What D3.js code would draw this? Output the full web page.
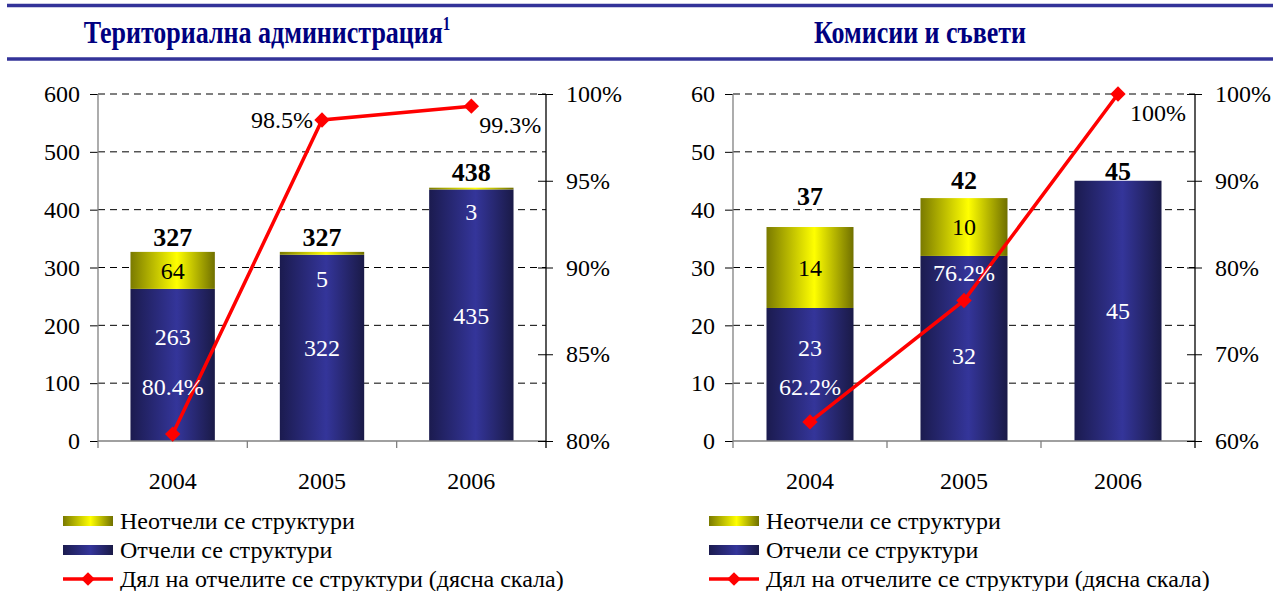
<!DOCTYPE html>
<html>
<head>
<meta charset="utf-8">
<script src="https://cdn.jsdelivr.net/npm/d3@7"></script>
<style>
  body { margin: 0; background: #fff; }
</style>
</head>
<body>
<script>
// data
const years = ["2004", "2005", "2006"];

const terrReported = [263, 322, 435];
const terrUnreported = [64, 5, 3];
const terrShare = [80.4, 98.5, 99.3];
const terrLeftTicks = [0, 100, 200, 300, 400, 500, 600];
const terrRightTicks = [80, 85, 90, 95, 100];

const comReported = [23, 32, 45];
const comUnreported = [14, 10, 0];
const comShare = [62.2, 76.2, 100];
const comLeftTicks = [0, 10, 20, 30, 40, 50, 60];
const comRightTicks = [60, 70, 80, 90, 100];

const legendLabels = ["Неотчели се структури", "Отчели се структури", "Дял на отчелите се структури (дясна скала)"];

const width = 1273;
const height = 591;
const FONT = "Liberation Serif";

const svg = d3.select("body").append("svg")
    .attr("width", width)
    .attr("height", height)
    .attr("font-family", FONT);

// gradients for the "cylinder" look of the bars
const defs = svg.append("defs");
function gradient(id, edgeL, mid, edgeR) {
    const g = defs.append("linearGradient").attr("id", id)
        .attr("x1", "0%").attr("x2", "100%").attr("y1", "0%").attr("y2", "0%");
    g.append("stop").attr("offset", "0%").attr("stop-color", edgeL);
    g.append("stop").attr("offset", "55%").attr("stop-color", mid);
    g.append("stop").attr("offset", "100%").attr("stop-color", edgeR);
}
gradient("gBlue", "#1b1b4f", "#34359a", "#1a1a47");
gradient("gYellow", "#7a7a00", "#ffff00", "#707000");

// header rules
[5.5, 59].forEach(y => {
    svg.append("line")
        .attr("x1", 7).attr("x2", width)
        .attr("y1", y).attr("y2", y)
        .attr("stroke", "#333399").attr("stroke-width", 3.5);
});

function txt(sel) {
    return sel.attr("font-family", FONT).attr("font-size", 24).attr("fill", "#000");
}

function drawPanel(p) {
    const g = svg.append("g");
    const top = 94, bottom = 441;

    // title
    const t = g.append("text")
        .attr("transform", `translate(${p.titleX},43) scale(1,1.2)`)
        .attr("text-anchor", "middle")
        .attr("fill", "#000080")
        .attr("font-family", FONT)
        .attr("font-weight", "bold")
        .attr("font-size", 26)
        .text(p.title);
    if (p.sup) {
        t.append("tspan").attr("dy", -11).attr("font-size", 15).text(p.sup);
    }

    const x = d3.scaleBand().domain(years).range([p.left, p.right]);
    const y = d3.scaleLinear().domain(p.yDomain).range([bottom, top]);
    const y2 = d3.scaleLinear().domain(p.y2Domain).range([bottom, top]);
    const bw = x.bandwidth() * p.barFrac;
    const cx = d => x(d) + x.bandwidth() / 2;

    // dashed grid
    g.append("g").selectAll("line")
        .data(p.leftTicks.filter(d => d > 0))
        .join("line")
        .attr("x1", p.left).attr("x2", p.right)
        .attr("y1", d => y(d)).attr("y2", d => y(d))
        .attr("stroke", "#000").attr("stroke-width", 1)
        .attr("stroke-dasharray", "7,5");

    // bars
    const bars = g.append("g");
    years.forEach((yr, i) => {
        const r = p.reported[i], u = p.unreported[i];
        bars.append("rect")
            .attr("x", cx(yr) - bw / 2).attr("width", bw)
            .attr("y", y(r)).attr("height", y(0) - y(r))
            .attr("fill", "url(#gBlue)");
        if (u > 0) {
            bars.append("rect")
                .attr("x", cx(yr) - bw / 2).attr("width", bw)
                .attr("y", y(r + u)).attr("height", y(r) - y(r + u))
                .attr("fill", "url(#gYellow)");
        }
    });

    // left axis
    const yAxis = d3.axisLeft(y).tickValues(p.leftTicks).tickSize(8).tickPadding(10);
    const ga = g.append("g").attr("transform", `translate(${p.left},0)`).call(yAxis);
    ga.attr("font-family", FONT).attr("font-size", 24);
    ga.select(".domain").remove();
    ga.selectAll("text").attr("fill", "#000");
    ga.selectAll(".tick line").attr("stroke", "#000");
    g.append("line")
        .attr("x1", p.left).attr("x2", p.left).attr("y1", top).attr("y2", bottom + 7)
        .attr("stroke", "#808080").attr("stroke-width", 1.3);

    // bottom axis
    g.append("line")
        .attr("x1", p.left).attr("x2", p.right).attr("y1", bottom).attr("y2", bottom)
        .attr("stroke", "#808080").attr("stroke-width", 1.3);
    years.slice(1).forEach(yr => {
        g.append("line")
            .attr("x1", x(yr)).attr("x2", x(yr)).attr("y1", bottom).attr("y2", bottom + 7)
            .attr("stroke", "#808080").attr("stroke-width", 1.3);
    });
    g.append("g").selectAll("text")
        .data(years).join("text")
        .call(txt)
        .attr("x", d => cx(d)).attr("y", 489)
        .attr("text-anchor", "middle")
        .text(d => d);

    // right axis
    const y2Axis = d3.axisRight(y2).tickValues(p.rightTicks).tickSize(7).tickPadding(13)
        .tickFormat(d => d + "%");
    const gr = g.append("g").attr("transform", `translate(${p.right},0)`).call(y2Axis);
    gr.attr("font-family", FONT).attr("font-size", 24);
    gr.select(".domain").remove();
    gr.selectAll(".tick line").attr("x1", -8).attr("stroke", "#000");
    gr.selectAll("text").attr("fill", "#000");
    g.append("line")
        .attr("x1", p.right).attr("x2", p.right).attr("y1", top).attr("y2", bottom + 7)
        .attr("stroke", "#000").attr("stroke-width", 1.3);

    // value labels inside bars, totals on top
    years.forEach((yr, i) => {
        const r = p.reported[i], u = p.unreported[i];
        g.append("text").call(txt)
            .attr("x", cx(yr)).attr("y", (y(0) + y(r)) / 2 + p.repShift[i])
            .attr("dy", "0.35em").attr("text-anchor", "middle")
            .attr("fill", "#fff")
            .text(r);
        if (u > 0) {
            g.append("text").call(txt)
                .attr("x", cx(yr)).attr("y", (y(r) + y(r + u)) / 2 + p.unrepShift[i])
                .attr("dy", "0.35em").attr("text-anchor", "middle")
                .attr("fill", u < 10 ? "#fff" : "#000")
                .text(u);
        }
        g.append("text").call(txt)
            .attr("x", cx(yr)).attr("y", y(r + u) - p.totalGap[i])
            .attr("text-anchor", "middle")
            .attr("font-size", 26).attr("font-weight", "bold")
            .text(r + u);
    });

    // share line
    const line = d3.line().x((d, i) => cx(years[i])).y(d => y2(d));
    g.append("path")
        .datum(p.share)
        .attr("d", line)
        .attr("fill", "none").attr("stroke", "#ff0000").attr("stroke-width", 3.5);
    g.append("g").selectAll("path")
        .data(p.share).join("path")
        .attr("d", d3.symbol(d3.symbolDiamond2, 150))
        .attr("transform", (d, i) => `translate(${cx(years[i])},${y2(d)})`)
        .attr("fill", "#ff0000");
    p.share.forEach((d, i) => {
        const o = p.shareLabel[i];
        g.append("text").call(txt)
            .attr("x", cx(years[i]) + o.dx).attr("y", y2(d) + o.dy)
            .attr("dy", "0.35em").attr("text-anchor", o.anchor)
            .attr("fill", o.white ? "#fff" : "#000")
            .text(d + "%");
    });

    // legend
    const lg = g.append("g");
    const rows = [521, 550, 579];
    lg.append("rect").attr("x", p.legX).attr("y", rows[0] - 5).attr("width", 50).attr("height", 10)
        .attr("fill", "url(#gYellow)");
    lg.append("rect").attr("x", p.legX).attr("y", rows[1] - 5).attr("width", 50).attr("height", 10)
        .attr("fill", "url(#gBlue)");
    lg.append("line").attr("x1", p.legX).attr("x2", p.legX + 50)
        .attr("y1", rows[2]).attr("y2", rows[2])
        .attr("stroke", "#ff0000").attr("stroke-width", 3.5);
    lg.append("path").attr("d", d3.symbol(d3.symbolDiamond2, 120))
        .attr("transform", `translate(${p.legX + 25},${rows[2]})`).attr("fill", "#ff0000");
    legendLabels.forEach((s, i) => {
        lg.append("text").call(txt)
            .attr("x", p.legX + 57).attr("y", rows[i]).attr("dy", "0.35em")
            .text(s);
    });
}

drawPanel({
    title: "Териториална администрация", sup: "1", titleX: 267,
    left: 98, right: 546, barFrac: 0.565,
    yDomain: [0, 600], y2Domain: [80, 100],
    leftTicks: terrLeftTicks, rightTicks: terrRightTicks,
    reported: terrReported, unreported: terrUnreported, share: terrShare,
    repShift: [-28, 0, 0], unrepShift: [0, 25, 23], totalGap: [6, 6, 7],
    shareLabel: [
        {dx: 0, dy: -47, anchor: "middle", white: true},
        {dx: -9, dy: 0, anchor: "end"},
        {dx: 8, dy: 18, anchor: "start"}
    ],
    legX: 63
});

drawPanel({
    title: "Комисии и съвети", titleX: 920,
    left: 733, right: 1195, barFrac: 0.565,
    yDomain: [0, 60], y2Domain: [60, 100],
    leftTicks: comLeftTicks, rightTicks: comRightTicks,
    reported: comReported, unreported: comUnreported, share: comShare,
    repShift: [-27, 7, 0], unrepShift: [0, 0, 0], totalGap: [22, 9, 1],
    shareLabel: [
        {dx: 0, dy: -35, anchor: "middle", white: true},
        {dx: 0, dy: -28, anchor: "middle", white: true},
        {dx: 40, dy: 19, anchor: "middle"}
    ],
    legX: 709
});
</script>
</body>
</html>
